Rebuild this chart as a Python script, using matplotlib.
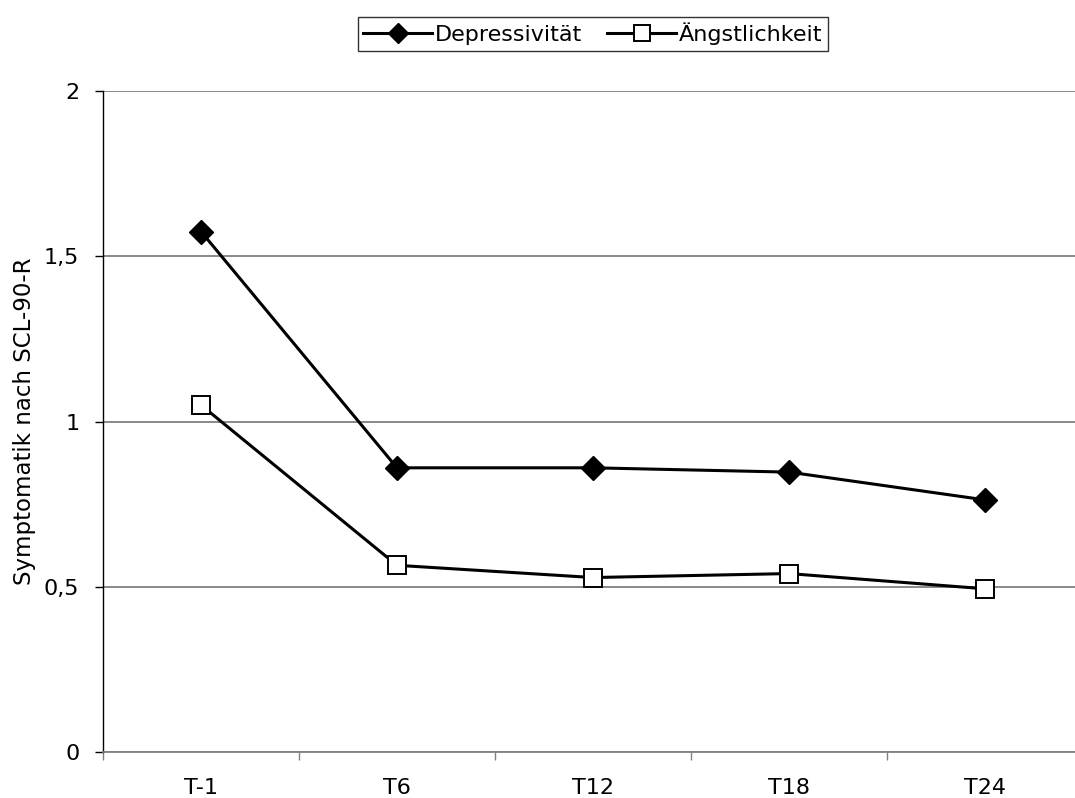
import matplotlib.pyplot as plt

plt.rcParams['font.family'] = ['DejaVu Sans']

zeitpunkte = ['T-1', 'T6', 'T12', 'T18', 'T24']
depressivitaet = [1.575, 0.86, 0.86, 0.847, 0.763]
aengstlichkeit = [1.05, 0.565, 0.528, 0.54, 0.494]

fig = plt.figure(figsize=(10.75, 7.98), dpi=100)
ax = fig.add_axes([0.0958, 0.0576, 0.9116, 0.8283])

x = range(len(zeitpunkte))
ax.plot(x, depressivitaet, color='black', lw=2.2, marker='D', ms=12,
        mfc='black', mec='black', label='Depressivität', zorder=3)
ax.plot(x, aengstlichkeit, color='black', lw=2.2, marker='s', ms=13,
        mfc='white', mec='black', mew=1.4, label='Ängstlichkeit', zorder=3)

ax.set_xlim(-0.5, len(zeitpunkte) - 0.5)
ax.set_ylim(0, 2)
ax.set_yticks([0, 0.5, 1, 1.5, 2])
ax.set_yticklabels(['0', '0,5', '1', '1,5', '2'])
ax.yaxis.grid(True, color='#808080', lw=1.3)
ax.set_axisbelow(True)

# Kategorie-Beschriftung mittig, Striche an den Grenzen
ax.set_xticks(list(x))
ax.set_xticklabels(zeitpunkte)
ax.set_xticks([i - 0.5 for i in range(len(zeitpunkte) + 1)], minor=True)
ax.tick_params(axis='x', which='major', length=0, pad=19, labelsize=16)
ax.tick_params(axis='x', which='minor', length=6, width=1, color='#808080')
ax.tick_params(axis='y', length=6, width=1, pad=11, labelsize=16)

for s in ['top', 'right']:
    ax.spines[s].set_visible(False)
ax.spines['left'].set_color('black')
ax.spines['left'].set_linewidth(1)
ax.spines['bottom'].set_color('#808080')
ax.spines['bottom'].set_linewidth(1.3)

ax.set_ylabel('Symptomatik nach SCL-90-R', fontsize=16.5, labelpad=6)

leg = ax.legend(loc='lower center', bbox_to_anchor=(0.5, 1.061), ncol=2,
                frameon=True, fancybox=False, edgecolor='black',
                fontsize=16, handlelength=3.1, handletextpad=0.15,
                columnspacing=1.1, borderpad=0.25, borderaxespad=0,
                markerscale=0.85)
leg.get_frame().set_linewidth(1)

fig.savefig('out.png', dpi=100)
